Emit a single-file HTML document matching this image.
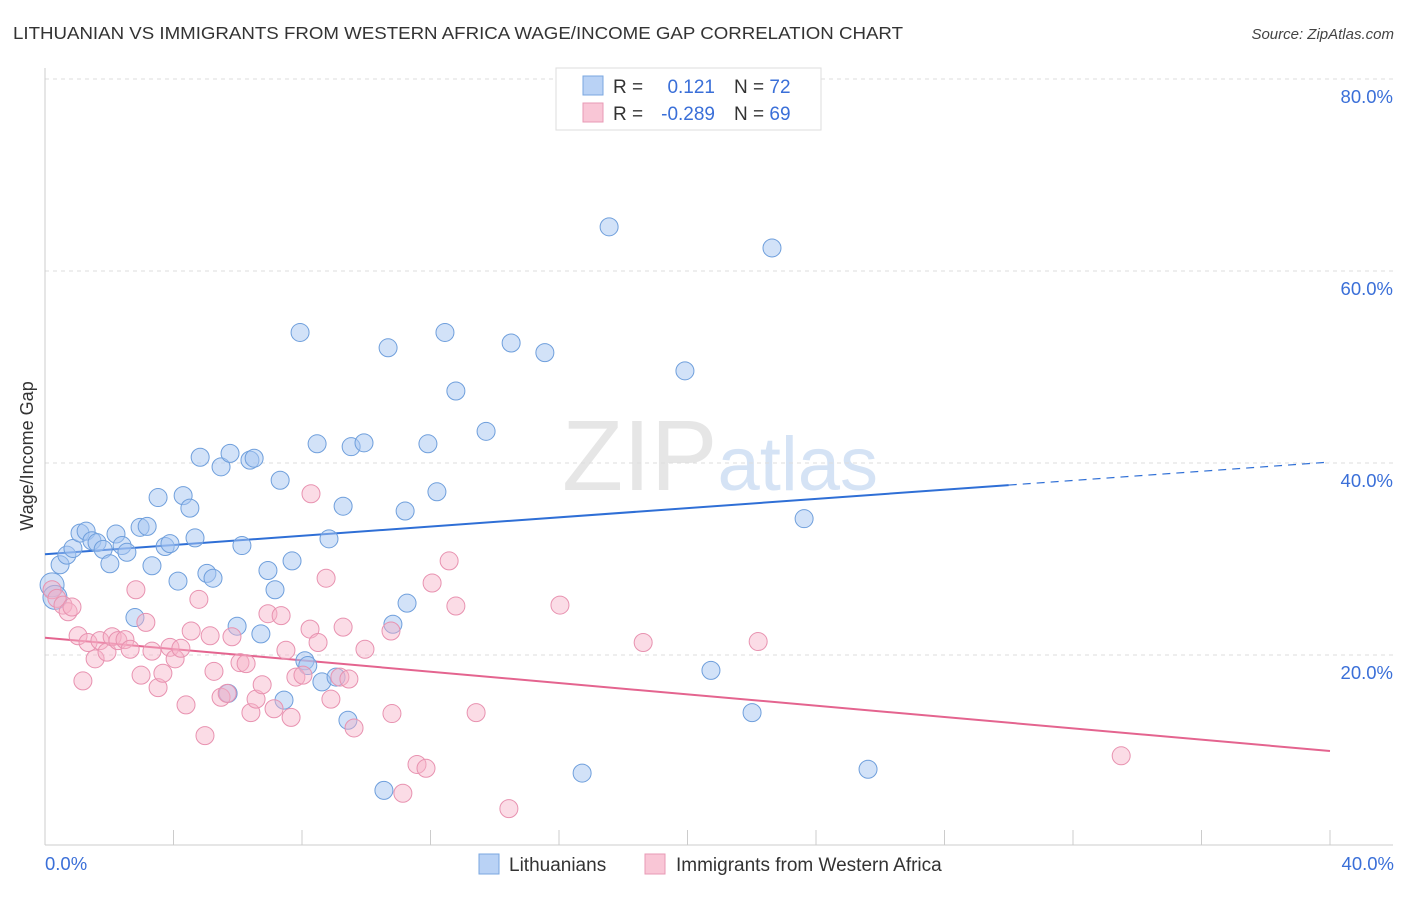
<!DOCTYPE html>
<html><head><meta charset="utf-8"><style>
body{margin:0;background:#fff;font-family:"Liberation Sans",sans-serif;}
svg text{font-family:"Liberation Sans",sans-serif;}
</style></head><body>
<svg id="chart" width="1406" height="892" viewBox="0 0 1406 892" xmlns="http://www.w3.org/2000/svg">
<text x="13" y="39" font-size="17.5" fill="#333" textLength="890" lengthAdjust="spacingAndGlyphs">LITHUANIAN VS IMMIGRANTS FROM WESTERN AFRICA WAGE/INCOME GAP CORRELATION CHART</text>
<text x="1394" y="39" font-size="15" fill="#444" text-anchor="end" font-style="italic">Source: ZipAtlas.com</text>
<text transform="translate(33,456) rotate(-90)" font-size="18" fill="#333" text-anchor="middle">Wage/Income Gap</text>
<text x="720" y="490" font-size="100" fill="#e6e6e6" text-anchor="middle" font-family="Liberation Serif">ZIP<tspan fill="#d5e3f5" font-family="Liberation Sans" font-size="76">atlas</tspan></text>
<g id="grid"></g><g id="axes"></g><g id="trends"></g><g id="points"></g>
<g>
<rect x="556" y="68" width="265" height="62" fill="#fff" stroke="#ddd"/>
<rect x="583" y="76" width="20" height="19" fill="#b9d2f5" stroke="#7aa7e0"/>
<rect x="583" y="103" width="20" height="19" fill="#f9c6d6" stroke="#e89ab5"/>
<text x="613" y="93" font-size="19" fill="#333">R =</text>
<text x="715" y="93" font-size="19" fill="#3a6fd8" text-anchor="end">0.121</text>
<text x="734" y="93" font-size="19" fill="#333">N = <tspan fill="#3a6fd8">72</tspan></text>
<text x="613" y="120" font-size="19" fill="#333">R =</text>
<text x="715" y="120" font-size="19" fill="#3a6fd8" text-anchor="end">-0.289</text>
<text x="734" y="120" font-size="19" fill="#333">N = <tspan fill="#3a6fd8">69</tspan></text>
</g>
<g>
<rect x="479" y="854" width="20" height="20" fill="#b9d2f5" stroke="#7aa7e0"/>
<text x="509" y="871" font-size="19" fill="#333">Lithuanians</text>
<rect x="645" y="854" width="20" height="20" fill="#f9c6d6" stroke="#e89ab5"/>
<text x="676" y="871" font-size="19" fill="#333">Immigrants from Western Africa</text>
</g>
</svg>
<script>
const yTicks=[20,40,60,80];
const xTickLabels=["0.0%","40.0%"];
const blueX=[0.22,0.31,0.47,0.68,0.87,1.09,1.28,1.46,1.62,1.81,2.02,2.21,2.40,2.55,2.80,2.96,3.18,3.33,3.52,3.74,3.89,4.14,4.30,4.51,4.67,4.83,5.04,5.23,5.48,5.76,5.98,6.13,6.38,6.51,6.72,6.94,7.16,7.32,7.44,7.69,7.94,8.09,8.18,8.47,8.62,8.84,9.06,9.28,9.43,9.53,9.93,10.55,10.68,10.83,11.21,11.27,11.92,12.20,12.45,12.79,13.73,14.51,15.56,16.72,17.56,19.92,20.73,22.01,22.63,23.63,25.62,5.70];
const blueY=[27.3,26.0,29.4,30.4,31.1,32.7,32.9,31.9,31.7,31.0,29.5,32.6,31.4,30.7,23.9,33.3,33.4,29.3,36.4,31.3,31.6,27.7,36.6,35.3,32.2,40.6,28.5,28.0,39.6,41.0,23.0,31.4,40.3,40.5,22.2,28.8,26.8,38.2,15.3,29.8,53.6,19.4,18.9,42.0,17.2,32.1,17.7,35.5,13.2,41.7,42.1,5.9,52.0,23.2,35.0,25.4,42.0,37.0,53.6,47.5,43.3,52.5,51.5,7.7,64.6,49.6,18.4,14.0,62.4,34.2,8.1,16.0];
const pinkX=[0.22,0.37,0.56,0.72,0.84,1.03,1.34,1.18,1.56,1.71,1.93,2.09,2.27,2.49,2.65,2.83,2.99,3.14,3.33,3.52,3.67,3.89,4.05,4.23,4.39,4.55,4.79,4.98,5.14,5.26,5.48,5.67,5.82,6.07,6.26,6.41,6.57,6.76,6.94,7.13,7.35,7.50,7.66,7.81,8.03,8.28,8.25,8.50,8.75,8.90,9.18,9.28,9.46,9.62,9.96,10.77,10.80,11.14,11.58,11.86,12.05,12.79,12.58,13.42,14.44,16.03,18.62,22.20,33.50];
const pinkY=[26.8,25.9,25.2,24.5,25.0,22.0,21.3,17.3,19.6,21.5,20.3,21.9,21.5,21.6,20.6,26.8,17.9,23.4,20.4,16.6,18.1,20.8,19.6,20.7,14.8,22.5,25.8,11.6,22.0,18.3,15.6,16.0,21.9,19.2,19.1,14.0,15.4,16.9,24.3,14.4,24.1,20.5,13.5,17.7,17.9,36.8,22.7,21.3,28.0,15.4,17.7,22.9,17.5,12.4,20.6,22.5,13.9,5.6,8.6,8.2,27.5,25.1,29.8,14.0,4.0,25.2,21.3,21.4,9.5];
const blueTrend=[30.5,40.1], blueSolidEnd=30.0;
const pinkTrend=[21.8,10.0];
const NS="http://www.w3.org/2000/svg";
const X=v=>45+v/40*1285, Y=v=>847-v/20*192;
function mk(t,a,p){const e=document.createElementNS(NS,t);for(const k in a)e.setAttribute(k,a[k]);p.appendChild(e);return e;}
const grid=document.getElementById('grid'),axes=document.getElementById('axes'),tr=document.getElementById('trends'),pts=document.getElementById('points');
yTicks.forEach(v=>{
 const l=mk('line',{x1:45,x2:1393,y1:Y(v),y2:Y(v),stroke:'#ddd','stroke-dasharray':'4,4'},grid);
 
 
 const t=mk('text',{x:1393,y:Y(v)+24,'font-size':18.5,fill:'#3a6fd8','text-anchor':'end'},grid);t.textContent=v.toFixed(1)+'%';
 
 
});
mk('line',{x1:45,x2:45,y1:68,y2:845,stroke:'#ccc'},axes);
mk('line',{x1:45,x2:1393,y1:845,y2:845,stroke:'#ccc'},axes);
for(let i=0;i<=10;i++){const tk=mk('line',{x1:X(i*4),x2:X(i*4),y1:830,y2:845,stroke:'#ccc'},axes);
 
 }
xTickLabels.forEach((s,i)=>{const t=mk('text',{x:i?1394:45,y:870,'font-size':18.5,fill:'#3a6fd8','text-anchor':i?'end':'start'},axes);t.textContent=s;
 
 });
const b1=mk('line',{x1:X(0),y1:Y(blueTrend[0]),x2:X(blueSolidEnd),y2:Y(blueTrend[0]+(blueTrend[1]-blueTrend[0])*blueSolidEnd/40),stroke:'#2f6fd6','stroke-width':2},tr);


const b2=mk('line',{x1:X(blueSolidEnd),y1:Y(blueTrend[0]+(blueTrend[1]-blueTrend[0])*blueSolidEnd/40),x2:X(40),y2:Y(blueTrend[1]),stroke:'#2f6fd6','stroke-width':1.2,'stroke-dasharray':'8,6'},tr);


const p1=mk('line',{x1:X(0),y1:Y(pinkTrend[0]),x2:X(40),y2:Y(pinkTrend[1]),stroke:'#e4648f','stroke-width':2},tr);


function dots(xs,ys,fill,stroke,name){xs.forEach((x,i)=>{const r=(i<2&&name==='lithuanian-point')?12:9;
 const c=mk('circle',{cx:X(x),cy:Y(ys[i]),r:r,fill:fill,stroke:stroke,'stroke-width':1},pts);
 
 });}
dots(blueX,blueY,'rgba(165,198,242,0.5)','#6f9fdc','lithuanian-point');
dots(pinkX,pinkY,'rgba(246,178,200,0.45)','#e892b0','western-africa-point');
</script>
</body></html>
